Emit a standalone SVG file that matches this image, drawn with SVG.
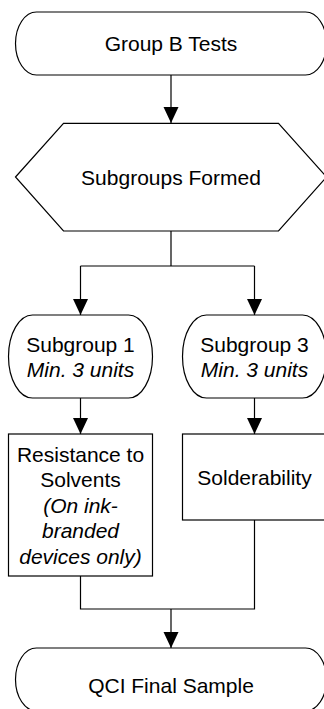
<svg xmlns="http://www.w3.org/2000/svg" width="324" height="709" viewBox="0 0 324 709">
<style>
.s{fill:#fff;stroke:#000;stroke-width:1.2}
.c{fill:none;stroke:#000;stroke-width:1.2}
text{font-family:"Liberation Sans",Arial,sans-serif;font-size:21px;fill:#000;text-anchor:middle}
.i{font-style:italic}
</style>
<defs>
<marker id="ah" markerUnits="userSpaceOnUse" markerWidth="16" markerHeight="16" viewBox="0 0 16 16" refX="16" refY="8" orient="auto">
<path d="M0,0.5 L16,8 L0,15.5 Z" fill="#000"/>
</marker>
</defs>
<g id="connectors">
<path class="c" d="M171,75 V123" marker-end="url(#ah)"/>
<path class="c" d="M171,231 V266 M80.5,266 H254.5"/>
<path class="c" d="M80.5,266 V315" marker-end="url(#ah)"/>
<path class="c" d="M254.5,266 V315" marker-end="url(#ah)"/>
<path class="c" d="M80.5,398 V434" marker-end="url(#ah)"/>
<path class="c" d="M254.5,398 V434" marker-end="url(#ah)"/>
<path class="c" d="M80.5,576 V609 H254.5 V520"/>
<path class="c" d="M171,609 V648" marker-end="url(#ah)"/>
</g>
<g id="groupB">
<rect class="s" x="15.5" y="12" width="311" height="63" rx="21" ry="31.5"/>
<text x="171" y="51">Group B Tests</text>
</g>
<g id="subgroups">
<polygon class="s" points="15.5,177 63.5,123.3 278.5,123.3 326.5,177 278.5,231 63.5,231"/>
<text x="171" y="185">Subgroups Formed</text>
</g>
<g id="subgroup1">
<rect class="s" x="8.5" y="315" width="144" height="83" rx="24" ry="41.5"/>
<text x="80.5" y="352">Subgroup 1</text>
<text class="i" x="80.5" y="377">Min. 3 units</text>
</g>
<g id="subgroup3">
<rect class="s" x="182.5" y="315" width="144" height="83" rx="24" ry="41.5"/>
<text x="254.5" y="352">Subgroup 3</text>
<text class="i" x="254.5" y="377">Min. 3 units</text>
</g>
<g id="resistance">
<rect class="s" x="8.5" y="434" width="144" height="142"/>
<text x="80.5" y="461.5">Resistance to</text>
<text x="80.5" y="487">Solvents</text>
<text class="i" x="80.5" y="512.5">(On ink-</text>
<text class="i" x="80.5" y="538">branded</text>
<text class="i" x="80.5" y="563.5">devices only)</text>
</g>
<g id="solderability">
<rect class="s" x="182.5" y="434" width="144" height="86"/>
<text x="254.5" y="485">Solderability</text>
</g>
<g id="qci">
<rect class="s" x="15.5" y="648" width="311" height="63" rx="21" ry="31.5"/>
<text x="171" y="693">QCI Final Sample</text>
</g>
</svg>
